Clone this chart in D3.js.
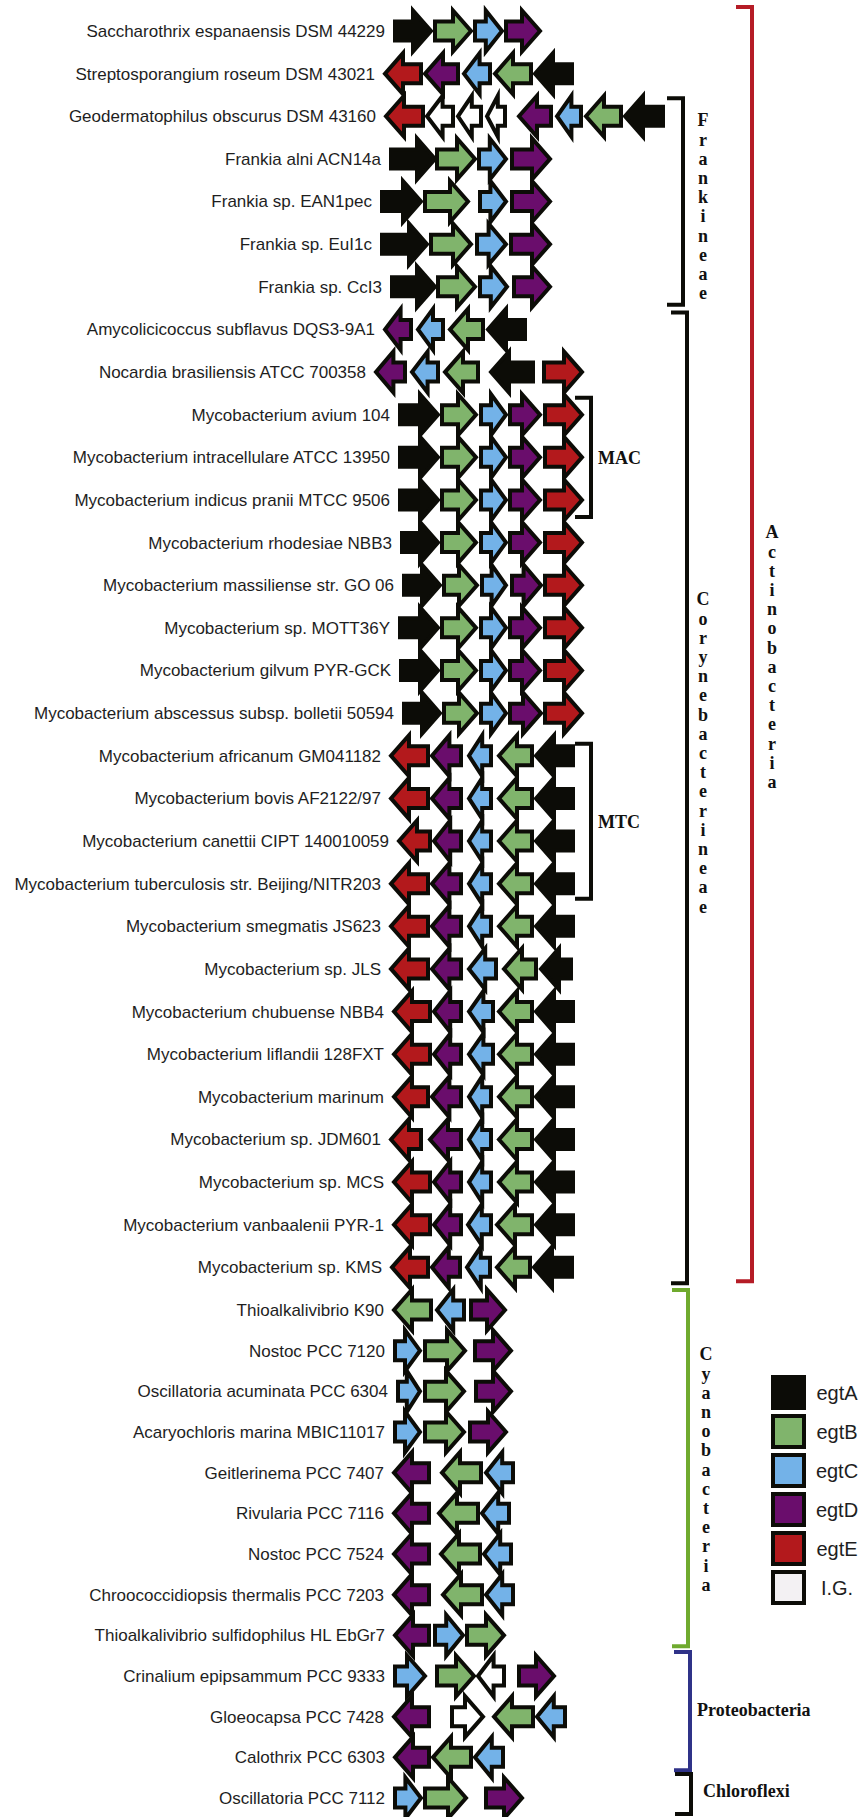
<!DOCTYPE html>
<html>
<head>
<meta charset="utf-8">
<script src="https://cdn.jsdelivr.net/npm/d3@7/dist/d3.min.js"></script>
<style>
  body { margin: 0; background: #fff; }
  .label { font-family: "Liberation Sans", Arial, sans-serif; font-size: 17px; fill: #1e1e1e; }
  .legendLabel { font-family: "Liberation Sans", Arial, sans-serif; font-size: 20px; fill: #1e1e1e; }
  .clade { font-family: "Liberation Serif", "Times New Roman", serif; font-weight: bold; font-size: 18px; fill: #111; }
</style>
</head>
<body>
<div id="chart"></div>
<script>
'use strict';

// Organisms, top to bottom
const species = [
  "Saccharothrix espanaensis DSM 44229",
  "Streptosporangium roseum DSM 43021",
  "Geodermatophilus obscurus DSM 43160",
  "Frankia alni ACN14a",
  "Frankia sp. EAN1pec",
  "Frankia sp. EuI1c",
  "Frankia sp. CcI3",
  "Amycolicicoccus subflavus DQS3-9A1",
  "Nocardia brasiliensis ATCC 700358",
  "Mycobacterium avium 104",
  "Mycobacterium intracellulare ATCC 13950",
  "Mycobacterium indicus pranii MTCC 9506",
  "Mycobacterium rhodesiae NBB3",
  "Mycobacterium massiliense str. GO 06",
  "Mycobacterium sp. MOTT36Y",
  "Mycobacterium gilvum PYR-GCK",
  "Mycobacterium abscessus subsp. bolletii 50594",
  "Mycobacterium africanum GM041182",
  "Mycobacterium bovis AF2122/97",
  "Mycobacterium canettii CIPT 140010059",
  "Mycobacterium tuberculosis str. Beijing/NITR203",
  "Mycobacterium smegmatis JS623",
  "Mycobacterium sp. JLS",
  "Mycobacterium chubuense NBB4",
  "Mycobacterium liflandii 128FXT",
  "Mycobacterium marinum",
  "Mycobacterium sp. JDM601",
  "Mycobacterium sp. MCS",
  "Mycobacterium vanbaalenii PYR-1",
  "Mycobacterium sp. KMS",
  "Thioalkalivibrio K90",
  "Nostoc PCC 7120",
  "Oscillatoria acuminata PCC 6304",
  "Acaryochloris marina MBIC11017",
  "Geitlerinema PCC 7407",
  "Rivularia PCC 7116",
  "Nostoc PCC 7524",
  "Chroococcidiopsis thermalis PCC 7203",
  "Thioalkalivibrio sulfidophilus HL EbGr7",
  "Crinalium epipsammum PCC 9333",
  "Gloeocapsa PCC 7428",
  "Calothrix PCC 6303",
  "Oscillatoria PCC 7112"
];

// Gene clusters: [gene, start, end, strand] in map units
const clusters = [
  [["egtA",13,53,1],["egtB",53,93,1],["egtC",93,124,1],["egtD",124,162,1]],
  [["egtE",3,43,-1],["egtD",43,80,-1],["egtC",82,112,-1],["egtB",113,153,-1],["egtA",153,194,-1]],
  [["egtE",4,45,-1],["IG",45,75,-1],["IG",76,103,-1],["IG",105,127,-1],["egtD",137,173,-1],["egtC",175,203,-1],["egtB",204,243,-1],["egtA",243,285,-1]],
  [["egtA",9,57,1],["egtB",55,97,1],["egtC",97,128,1],["egtD",130,172,1]],
  [["egtA",0,43,1],["egtB",43,90,1],["egtC",98,128,1],["egtD",130,172,1]],
  [["egtA",0,49,1],["egtB",49,93,1],["egtC",95,128,1],["egtD",129,172,1]],
  [["egtA",10,57,1],["egtB",56,97,1],["egtC",98,129,1],["egtD",132,172,1]],
  [["egtD",3,33,-1],["egtC",36,65,-1],["egtB",68,105,-1],["egtA",106,147,-1]],
  [["egtD",-6,27,-1],["egtC",30,60,-1],["egtB",63,100,-1],["egtA",109,155,-1],["egtE",162,204,1]],
  [["egtA",18,60,1],["egtB",60,98,1],["egtC",99,128,1],["egtD",128,162,1],["egtE",163,204,1]],
  [["egtA",18,60,1],["egtB",60,98,1],["egtC",99,128,1],["egtD",128,162,1],["egtE",163,204,1]],
  [["egtA",18,60,1],["egtB",60,98,1],["egtC",99,128,1],["egtD",128,162,1],["egtE",163,204,1]],
  [["egtA",20,60,1],["egtB",60,98,1],["egtC",99,128,1],["egtD",128,162,1],["egtE",163,204,1]],
  [["egtA",22,62,1],["egtB",62,99,1],["egtC",100,128,1],["egtD",130,163,1],["egtE",163,204,1]],
  [["egtA",18,60,1],["egtB",60,98,1],["egtC",99,128,1],["egtD",128,162,1],["egtE",163,204,1]],
  [["egtA",19,60,1],["egtB",60,98,1],["egtC",99,128,1],["egtD",128,162,1],["egtE",163,204,1]],
  [["egtA",22,62,1],["egtB",62,99,1],["egtC",99,128,1],["egtD",128,163,1],["egtE",163,204,1]],
  [["egtE",9,50,-1],["egtD",50,83,-1],["egtC",87,113,-1],["egtB",117,154,-1],["egtA",154,195,-1]],
  [["egtE",9,50,-1],["egtD",50,83,-1],["egtC",87,113,-1],["egtB",117,154,-1],["egtA",154,195,-1]],
  [["egtE",17,52,-1],["egtD",52,83,-1],["egtC",87,113,-1],["egtB",117,154,-1],["egtA",154,195,-1]],
  [["egtE",9,50,-1],["egtD",50,83,-1],["egtC",87,113,-1],["egtB",117,154,-1],["egtA",154,195,-1]],
  [["egtE",9,50,-1],["egtD",50,83,-1],["egtC",87,113,-1],["egtB",117,154,-1],["egtA",154,195,-1]],
  [["egtE",9,50,-1],["egtD",50,83,-1],["egtC",87,118,-1],["egtB",122,158,-1],["egtA",159,193,-1]],
  [["egtE",12,52,-1],["egtD",52,83,-1],["egtC",87,115,-1],["egtB",117,154,-1],["egtA",154,195,-1]],
  [["egtE",12,52,-1],["egtD",52,83,-1],["egtC",87,115,-1],["egtB",117,154,-1],["egtA",154,195,-1]],
  [["egtE",12,50,-1],["egtD",50,83,-1],["egtC",87,113,-1],["egtB",117,154,-1],["egtA",154,195,-1]],
  [["egtE",9,43,-1],["egtD",48,83,-1],["egtC",87,113,-1],["egtB",117,154,-1],["egtA",154,195,-1]],
  [["egtE",12,52,-1],["egtD",52,83,-1],["egtC",87,113,-1],["egtB",117,154,-1],["egtA",154,195,-1]],
  [["egtE",12,52,-1],["egtD",52,83,-1],["egtC",86,113,-1],["egtB",115,154,-1],["egtA",154,195,-1]],
  [["egtE",10,50,-1],["egtD",50,82,-1],["egtC",85,112,-1],["egtB",115,152,-1],["egtA",152,194,-1]],
  [["egtB",12,53,-1],["egtC",55,86,-1],["egtD",89,127,1]],
  [["egtC",13,42,1],["egtB",43,87,1],["egtD",93,133,1]],
  [["egtC",16,42,1],["egtB",43,86,1],["egtD",94,133,1]],
  [["egtC",13,42,1],["egtB",43,86,1],["egtD",88,128,1]],
  [["egtD",12,51,-1],["egtB",60,103,-1],["egtC",104,135,-1]],
  [["egtD",12,51,-1],["egtB",57,100,-1],["egtC",100,131,-1]],
  [["egtD",12,51,-1],["egtB",59,102,-1],["egtC",102,133,-1]],
  [["egtD",12,51,-1],["egtB",61,104,-1],["egtC",104,135,-1]],
  [["egtD",13,51,-1],["egtC",53,85,1],["egtB",85,126,1]],
  [["egtC",13,47,1],["egtB",55,96,1],["IG",96,126,-1],["egtD",137,176,1]],
  [["egtD",12,51,-1],["IG",70,105,1],["egtB",112,155,-1],["egtC",155,187,-1]],
  [["egtD",13,51,-1],["egtB",51,93,-1],["egtC",93,125,-1]],
  [["egtC",13,43,1],["egtB",43,88,1],["egtD",104,144,1]]
];

// Legend entries
const legendKeys = ["egtA", "egtB", "egtC", "egtD", "egtE", "IG"];
const legendNames = ["egtA", "egtB", "egtC", "egtD", "egtE", "I.G."];

// Taxonomic groups: name, first row, last row
const cladeNames = ["Frankineae", "Corynebacterineae", "Actinobacteria", "Cyanobacteria", "Proteobacteria", "Chloroflexi"];
const cladeFirst = [2, 7, 0, 30, 39, 42];
const cladeLast = [6, 29, 29, 38, 41, 42];
const subNames = ["MAC", "MTC"];
const subFirst = [9, 17];
const subLast = [11, 20];

class GeneMap {
  constructor (el) {
    this.el = el;
    this.w = 861;
    this.h = 1817;
    this.colors = {
      egtA: "#0c0c07", egtB: "#80b46c", egtC: "#73b2e8",
      egtD: "#6a0d6c", egtE: "#b3191c", IG: "#ffffff"
    };
  }

  render () {
    this.svg = d3.select("#" + this.el)
      .append("svg")
      .attr("width", this.w)
      .attr("height", this.h);

    // map units -> px, row index -> centre y (bottom rows sit closer together)
    this.x = d3.scaleLinear().domain([0, 100]).range([380, 480]);
    this.y = d3.scaleLinear().domain([0, 30, 42]).range([31, 1310, 1798]);

    this.addRows();
    this.addBrackets();
    this.addLegend();
  }

  arrowPath (g, cy) {
    const a = this.x(g[1]) + 2, b = this.x(g[2]) - 2;
    const head = Math.min(18, (b - a) * 0.6);
    const sh = 9.5, hh = 20.5;
    if (g[3] > 0) {
      return `M${a},${cy - sh}L${b - head},${cy - sh}L${b - head},${cy - hh}L${b},${cy}` +
             `L${b - head},${cy + hh}L${b - head},${cy + sh}L${a},${cy + sh}Z`;
    }
    return `M${b},${cy - sh}L${a + head},${cy - sh}L${a + head},${cy - hh}L${a},${cy}` +
           `L${a + head},${cy + hh}L${a + head},${cy + sh}L${b},${cy + sh}Z`;
  }

  addRows () {
    let rows = this.svg.selectAll(".row")
      .data(clusters)
      .enter().append("g")
      .attr("class", "row");

    rows.append("text")
      .attr("class", "label")
      .attr("x", (d) => this.x(d3.min(d, (g) => g[1])) - 8)
      .attr("y", (d, i) => this.y(i))
      .attr("dy", "0.35em")
      .attr("text-anchor", "end")
      .text((d, i) => species[i]);

    rows.each((d, i, nodes) => {
      d3.select(nodes[i]).selectAll(".gene")
        .data(d)
        .enter().append("path")
        .attr("class", "gene")
        .attr("d", (g) => this.arrowPath(g, this.y(i)))
        .style("fill", (g) => this.colors[g[0]])
        .style("stroke", "#0c0c07")
        .style("stroke-width", 4)
        .style("stroke-linejoin", "miter")
        .style("stroke-miterlimit", 10);
    });
  }

  bracket (x, y0, y1, color, tick) {
    this.svg.append("path")
      .attr("d", `M${x - tick},${y0}H${x}V${y1}H${x - tick}`)
      .style("fill", "none")
      .style("stroke", color)
      .style("stroke-width", 4);
  }

  stack (name, x, y) {
    // Letters written one below the other
    let t = this.svg.append("text")
      .attr("class", "clade")
      .attr("text-anchor", "middle");
    name.split("").forEach((c, i) => {
      t.append("tspan")
        .attr("x", x)
        .attr("y", y + i * 19.2)
        .attr("dy", "0.35em")
        .text(c);
    });
  }

  addBrackets () {
    const bx = [683, 687, 752, 688, 690, 691];
    const pads = [[18, 18], [17, 16], [24, 14], [20, 11], [24, 13], [24, 16]];
    const cols = ["#0c0c07", "#0c0c07", "#b51c26", "#6faa2e", "#2f3288", "#0c0c07"];

    cladeNames.forEach((n, i) => {
      this.bracket(bx[i], this.y(cladeFirst[i]) - pads[i][0], this.y(cladeLast[i]) + pads[i][1], cols[i], 16);
    });

    this.stack(cladeNames[0], 703, 120);
    this.stack(cladeNames[1], 703, 599);
    this.stack(cladeNames[2], 772, 532);
    this.stack(cladeNames[3], 706, 1354);

    [[cladeNames[4], 697, 1710], [cladeNames[5], 703, 1791]].forEach((d) => {
      this.svg.append("text")
        .attr("class", "clade")
        .attr("x", d[1])
        .attr("y", d[2])
        .attr("dy", "0.35em")
        .text(d[0]);
    });

    // MAC / MTC sub-brackets
    const subPads = [[17, 17], [12, 15]];
    subNames.forEach((n, i) => {
      let y0 = this.y(subFirst[i]) - subPads[i][0];
      let y1 = this.y(subLast[i]) + subPads[i][1];
      this.bracket(591, y0, y1, "#0c0c07", 16);
      this.svg.append("text")
        .attr("class", "clade")
        .attr("x", 598)
        .attr("y", (y0 + y1) / 2)
        .attr("dy", "0.35em")
        .text(n);
    });
  }

  addLegend () {
    let items = this.svg.selectAll(".legendItem")
      .data(legendKeys)
      .enter().append("g")
      .attr("class", "legendItem")
      .attr("transform", (d, i) => `translate(771,${1375 + i * 39})`);

    items.append("rect")
      .attr("x", 2)
      .attr("y", 2)
      .attr("width", 31)
      .attr("height", 31)
      .style("fill", (d) => d === "IG" ? "#f3f1f3" : this.colors[d])
      .style("stroke", "#0c0c07")
      .style("stroke-width", 4);

    items.append("text")
      .attr("class", "legendLabel")
      .attr("x", 66)
      .attr("y", 17.5)
      .attr("dy", "0.35em")
      .attr("text-anchor", "middle")
      .text((d, i) => legendNames[i]);
  }
}

new GeneMap("chart").render();
</script>
</body>
</html>
